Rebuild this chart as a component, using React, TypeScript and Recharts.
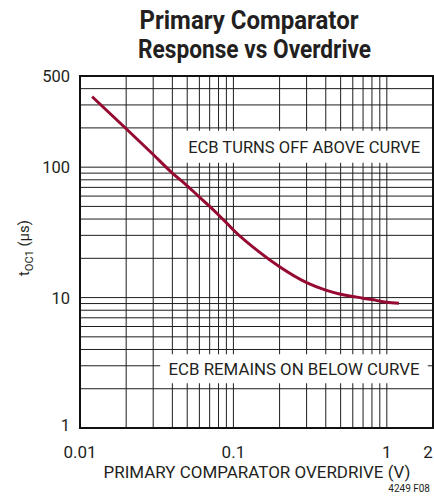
import React from "react";
import {
  LineChart,
  Line,
  XAxis,
  YAxis,
  CartesianGrid,
  ReferenceArea,
} from "recharts";

// ---- data ----
const overdriveV = [0.012, 0.02, 0.03, 0.04, 0.05, 0.06, 0.07, 0.08, 0.09, 0.1, 0.15, 0.2, 0.3, 0.4, 0.5, 0.6, 0.7, 0.8, 0.9, 1.0, 1.2];
const responseUs = [347, 197, 125, 90, 72, 59, 50, 43, 37.5, 33, 22, 17.2, 13.0, 11.4, 10.6, 10.2, 9.9, 9.65, 9.4, 9.2, 9.05];

const xGridTicks = [0.01, 0.02, 0.03, 0.04, 0.05, 0.06, 0.07, 0.08, 0.09, 0.1, 0.2, 0.3, 0.4, 0.5, 0.6, 0.7, 0.8, 0.9, 1, 2];
const xTickLabels: Record<string, string> = { "0.01": "0.01", "0.1": "0.1", "1": "1", "2": "2" };
const yGridTicks = [1, 2, 3, 4, 5, 6, 7, 8, 9, 10, 20, 30, 40, 50, 60, 70, 80, 90, 100, 200, 300, 400, 500];
const yTickLabels: Record<string, string> = { "1": "1", "10": "10", "100": "100", "500": "500" };

const titleLines = ["Primary Comparator", "Response vs Overdrive"];
const xAxisTitle = "PRIMARY COMPARATOR OVERDRIVE (V)";
const noteAbove = "ECB TURNS OFF ABOVE CURVE";
const noteBelow = "ECB REMAINS ON BELOW CURVE";
const figId = "4249 F08";

const data = overdriveV.map((x, i) => ({ x, y: responseUs[i] }));

const FONT = "Roboto, 'Liberation Sans', sans-serif";
const TEXT = "#231f20";
const CURVE = "#960a32";
const GRID = "#1e1e1e";

const XTick = (props: any) => {
  const { x, y, payload } = props;
  const lbl = xTickLabels[String(payload.value)];
  if (!lbl) return <g />;
  const dx = payload.value === 2 ? -5 : 0;
  return (
    <text x={x + dx} y={y + 30} textAnchor="middle" fontSize={17} fill={TEXT} fontFamily={FONT}>
      {lbl}
    </text>
  );
};

const YTick = (props: any) => {
  const { x, y, payload } = props;
  const lbl = yTickLabels[String(payload.value)];
  if (!lbl) return <g />;
  const shift = payload.value === 1 ? -3.5 : 0;
  return (
    <text x={x - 10} y={y + 6 + shift} textAnchor="end" fontSize={16.5} fill={TEXT} fontFamily={FONT}>
      {lbl}
    </text>
  );
};

const BoxLabel = (text: string, width: number) => (props: any) => {
  const vb = props.viewBox || {};
  const cx = vb.x + vb.width / 2;
  const cy = vb.y + vb.height / 2;
  return (
    <text
      x={cx}
      y={cy + 6.5}
      textAnchor="middle"
      fontSize={17}
      fill={TEXT}
      fontFamily={FONT}
      textLength={width}
      lengthAdjust="spacingAndGlyphs"
    >
      {text}
    </text>
  );
};

export default function App() {
  return (
    <div style={{ position: "absolute", left: 0, top: 0, width: 434, height: 496, background: "#fff", overflow: "hidden" }}>
      <LineChart
        width={434}
        height={496}
        data={data}
        margin={{ top: 76, right: 1, left: 20, bottom: 38 }}
        style={{ position: "absolute", left: 0, top: 0 }}
      >
        <CartesianGrid stroke={GRID} strokeWidth={1} fill="none" />
        <XAxis
          dataKey="x"
          type="number"
          scale="log"
          domain={[0.01, 2]}
          ticks={xGridTicks}
          interval={0}
          allowDataOverflow
          height={30}
          tickSize={0}
          tickMargin={0}
          tickLine={false}
          axisLine={false}
          tick={<XTick />}
        />
        <YAxis
          type="number"
          scale="log"
          domain={[1, 500]}
          ticks={yGridTicks}
          interval={0}
          allowDataOverflow
          width={60}
          tickSize={0}
          tickMargin={0}
          tickLine={false}
          axisLine={false}
          tick={<YTick />}
        />
        <ReferenceArea
          x1={0.044}
          x2={1.9}
          y1={108}
          y2={190}
          fill="#fff"
          fillOpacity={1}
          stroke="none"
          label={BoxLabel(noteAbove, 232)}
        />
        <ReferenceArea
          x1={0.0333}
          x2={1.85}
          y1={2.2}
          y2={3.68}
          fill="#fff"
          fillOpacity={1}
          stroke="none"
          label={BoxLabel(noteBelow, 251)}
        />
        <ReferenceArea x1={0.01} x2={2} y1={1} y2={500} fill="none" stroke="#111" strokeWidth={2} ifOverflow="visible" />
        <Line
          dataKey="y"
          type="monotone"
          stroke={CURVE}
          strokeWidth={3}
          dot={false}
          isAnimationActive={false}
        />
      </LineChart>
      <svg width={434} height={496} style={{ position: "absolute", left: 0, top: 0, pointerEvents: "none" }}>
        <text x={249} y={29} textAnchor="middle" fontSize={26} fontWeight="bold" fill={TEXT} fontFamily={FONT} textLength={219} lengthAdjust="spacingAndGlyphs">
          {titleLines[0]}
        </text>
        <text x={254.5} y={58} textAnchor="middle" fontSize={26} fontWeight="bold" fill={TEXT} fontFamily={FONT} textLength={233} lengthAdjust="spacingAndGlyphs">
          {titleLines[1]}
        </text>
        <text
          transform="rotate(-90 29 248)"
          x={29}
          y={248}
          textAnchor="middle"
          fontSize={15}
          fill={TEXT}
          fontFamily={FONT}
        >
          <tspan>t</tspan>
          <tspan fontSize={11} dy={4}>OC1</tspan>
          <tspan dy={-4}> (µs)</tspan>
        </text>
        <text x={257} y={478} textAnchor="middle" fontSize={17} fill={TEXT} fontFamily={FONT} textLength={307} lengthAdjust="spacingAndGlyphs">
          {xAxisTitle}
        </text>
        <text x={430} y={492} textAnchor="end" fontSize={10} fill={TEXT} fontFamily={FONT}>
          {figId}
        </text>
      </svg>
    </div>
  );
}
